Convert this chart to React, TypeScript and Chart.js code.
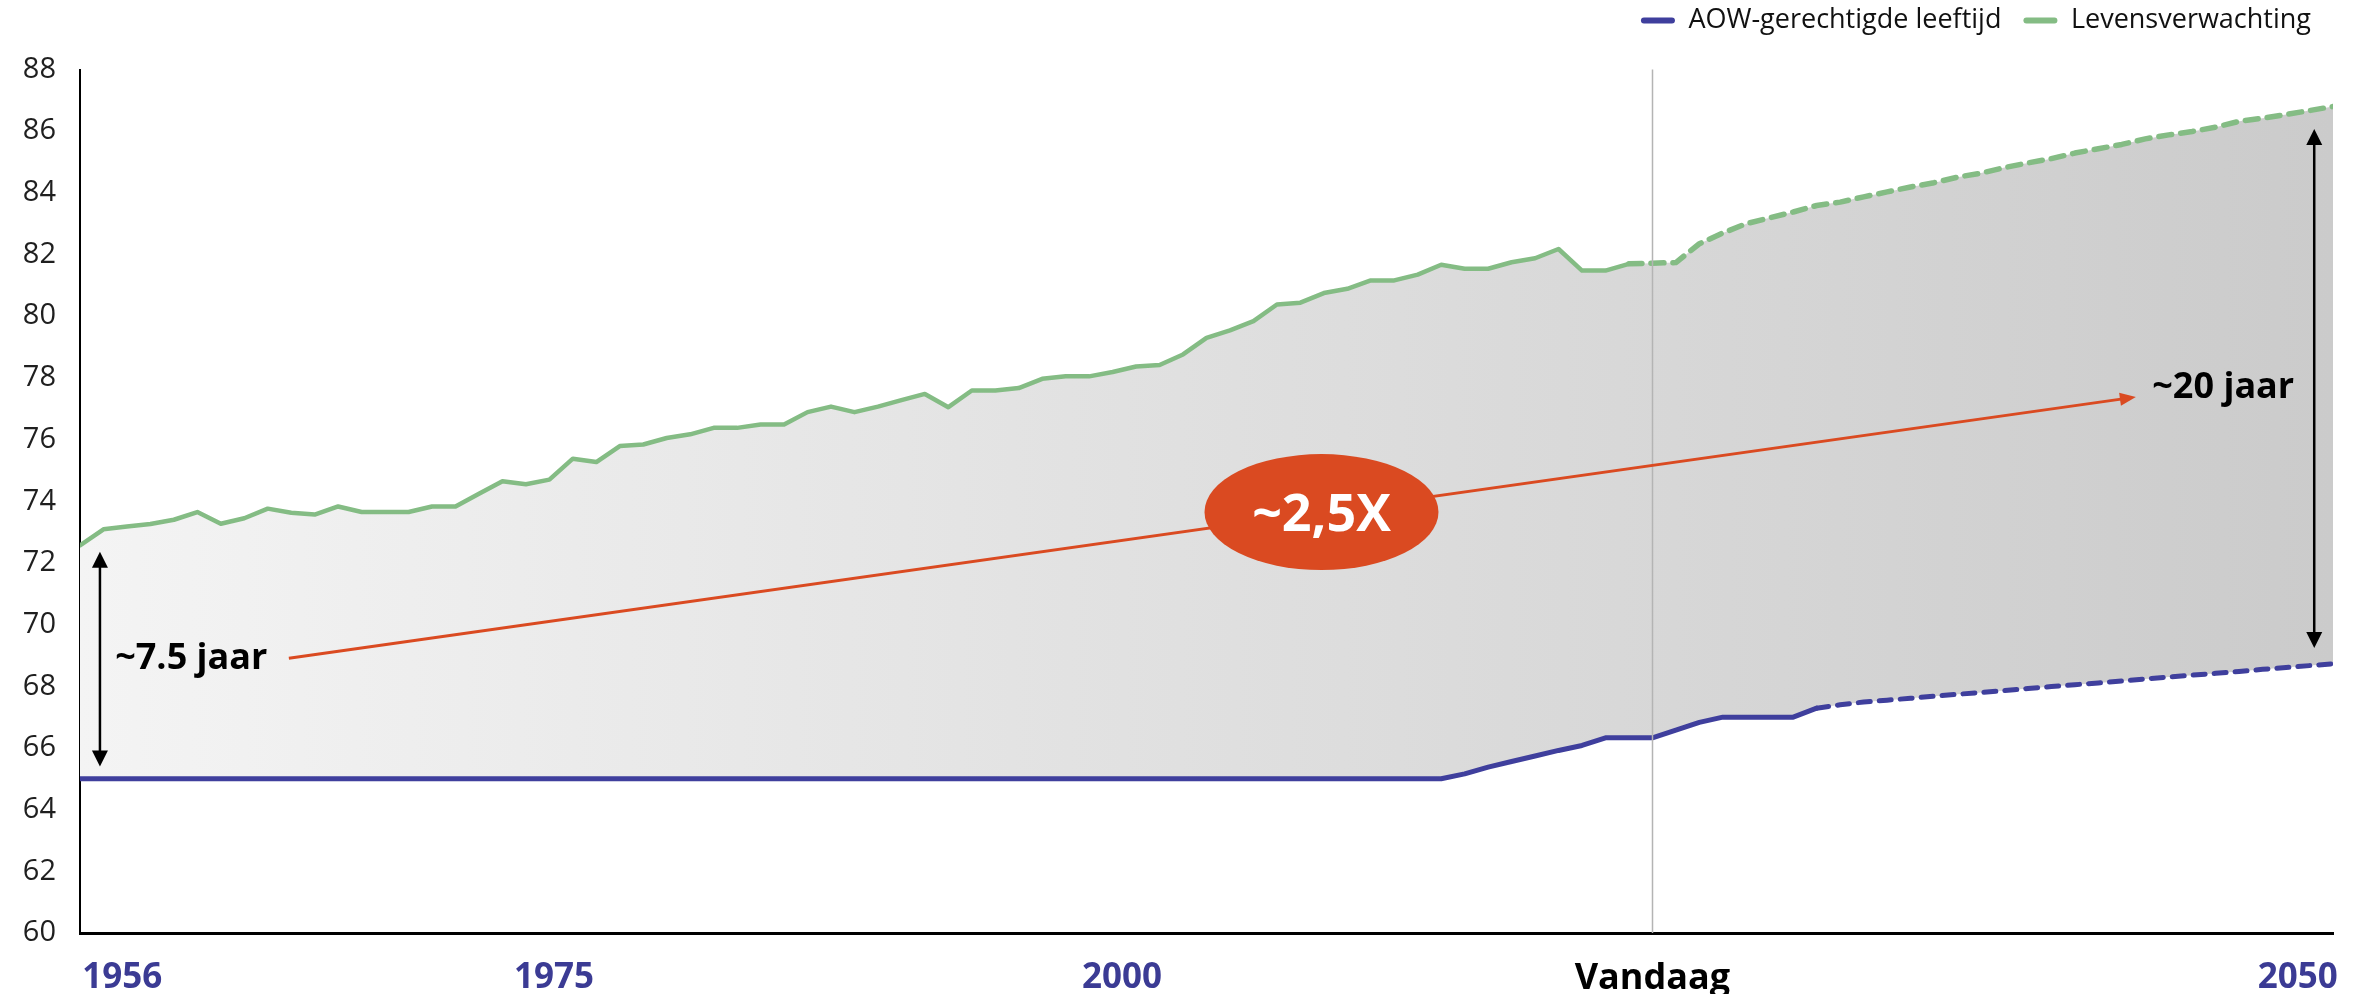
import React, { useEffect, useRef } from 'react';
import { Chart, registerables } from 'chart.js';

Chart.register(...registerables);

// ---------- data ----------
const FIRST_YEAR = 1954;
const LAST_YEAR = 2050;
const years: number[] = [];
for (let y = FIRST_YEAR; y <= LAST_YEAR; y++) years.push(y);

const aowLabel = 'AOW-gerechtigde leeftijd';
const lifeLabel = 'Levensverwachting';

// AOW-gerechtigde leeftijd, 1954..2050
const aowValues = [
  65, 65, 65, 65, 65, 65, 65, 65, 65, 65,
  65, 65, 65, 65, 65, 65, 65, 65, 65, 65,
  65, 65, 65, 65, 65, 65, 65, 65, 65, 65,
  65, 65, 65, 65, 65, 65, 65, 65, 65, 65,
  65, 65, 65, 65, 65, 65, 65, 65, 65, 65,
  65, 65, 65, 65, 65, 65, 65, 65, 65,
  65.16, 65.38, 65.56, 65.74, 65.92, 66.08, 66.33, 66.33, 66.33, 66.58,
  66.83, 67, 67, 67, 67, 67.29, 67.4, 67.49, 67.55, 67.61,
  67.68, 67.74, 67.8, 67.86, 67.93, 67.99, 68.05, 68.11, 68.17, 68.24,
  68.3, 68.36, 68.42, 68.48, 68.55, 68.61, 68.67, 68.73,
];

// Levensverwachting, 1954..2050
const lifeValues = [
  72.57, 73.09, 73.18, 73.26, 73.4, 73.65, 73.27, 73.45, 73.76, 73.63,
  73.57, 73.83, 73.65, 73.65, 73.65, 73.83, 73.83, 74.24, 74.65, 74.55,
  74.7, 75.38, 75.27, 75.79, 75.84, 76.05, 76.17, 76.38, 76.38, 76.49,
  76.49, 76.89, 77.07, 76.89, 77.07, 77.28, 77.48, 77.05, 77.59, 77.59,
  77.67, 77.97, 78.05, 78.05, 78.19, 78.37, 78.42, 78.76, 79.3, 79.54,
  79.84, 80.38, 80.44, 80.75, 80.89, 81.16, 81.16, 81.35, 81.67, 81.54,
  81.54, 81.75, 81.88, 82.18, 81.48, 81.48, 81.7, 81.72, 81.74, 82.35,
  82.7, 83.0, 83.19, 83.38, 83.59, 83.7, 83.87, 84.03, 84.19, 84.33,
  84.51, 84.64, 84.82, 84.97, 85.11, 85.29, 85.43, 85.57, 85.75, 85.88,
  85.99, 86.13, 86.32, 86.42, 86.54, 86.67, 86.8,
];

const xTickLabels = ['1956', '1975', '2000', 'Vandaag', '2050'];
const xTickYears = [1955.8, 1974.2, 1998.4, 2021, 2048.5];
const todayYear = 2021;
const aowDashFrom = 74; // index from which the AOW line is a projection
const lifeDashFrom = 66; // index from which life expectancy is a projection

const gapLeftText = '~7.5 jaar';
const gapRightText = '~20 jaar';
const ratioText = '~2,5X';

// annotation anchors in data units
const leftGap = { year: 1954.85, top: 72.36, bottom: 65.4, textYear: 1955.5, textValue: 68.88 };
const rightGap = { year: 2049.2, top: 86.07, bottom: 69.24, textYear: 2042.3, textValue: 77.67 };
const redArrow = { fromYear: 1962.9, fromValue: 68.91, toYear: 2041.6, toValue: 77.38 };
const bubble = { year: 2006.9, value: 73.65 };

// ---------- styles ----------
const FONT = "'Open Sans', 'DejaVu Sans', sans-serif";
const BLUE = '#3f3f9d';
const GREEN = '#84bc84';
const RED = '#da4a21';

function arrowHead(ctx: CanvasRenderingContext2D, fx: number, fy: number, tx: number, ty: number, len: number, halfW: number, color: string) {
  const a = Math.atan2(ty - fy, tx - fx);
  const bx = tx - len * Math.cos(a);
  const by = ty - len * Math.sin(a);
  ctx.fillStyle = color;
  ctx.beginPath();
  ctx.moveTo(tx, ty);
  ctx.lineTo(bx + halfW * Math.sin(a), by - halfW * Math.cos(a));
  ctx.lineTo(bx - halfW * Math.sin(a), by + halfW * Math.cos(a));
  ctx.closePath();
  ctx.fill();
}

function arrowLine(ctx: CanvasRenderingContext2D, fx: number, fy: number, tx: number, ty: number, len: number, halfW: number, color: string, width: number, both: boolean) {
  const a = Math.atan2(ty - fy, tx - fx);
  const sx = both ? fx + (len - 1) * Math.cos(a) : fx;
  const sy = both ? fy + (len - 1) * Math.sin(a) : fy;
  const ex = tx - (len - 1) * Math.cos(a);
  const ey = ty - (len - 1) * Math.sin(a);
  ctx.strokeStyle = color;
  ctx.lineWidth = width;
  ctx.beginPath();
  ctx.moveTo(sx, sy);
  ctx.lineTo(ex, ey);
  ctx.stroke();
  arrowHead(ctx, fx, fy, tx, ty, len, halfW, color);
  if (both) arrowHead(ctx, tx, ty, fx, fy, len, halfW, color);
}

const legendSpacer = {
  id: 'legendSpacer',
  beforeInit(chart: any) {
    const legend = chart.legend;
    if (!legend) return;
    const fit = legend.fit;
    legend.fit = function () {
      fit.call(this);
      this.height = 84.5;
    };
  },
};

const annotations = {
  id: 'annotations',
  afterDatasetsDraw(chart: any) {
    const { ctx, chartArea } = chart;
    const xs = chart.scales.x;
    const ys = chart.scales.y;
    const X = (v: number) => xs.getPixelForValue(v);
    const Y = (v: number) => ys.getPixelForValue(v);
    ctx.save();

    // "Vandaag" vertical line
    ctx.strokeStyle = '#b4b4b4';
    ctx.lineWidth = 1.5;
    ctx.beginPath();
    ctx.moveTo(Math.round(X(todayYear)) + 0.5, chartArea.top);
    ctx.lineTo(Math.round(X(todayYear)) + 0.5, chartArea.bottom);
    ctx.stroke();

    // red trend arrow
    arrowLine(ctx, X(redArrow.fromYear), Y(redArrow.fromValue), X(redArrow.toYear), Y(redArrow.toValue), 16, 6.5, RED, 3, false);

    // bubble
    ctx.fillStyle = RED;
    ctx.beginPath();
    ctx.ellipse(X(bubble.year), Y(bubble.value), 117, 58, 0, 0, Math.PI * 2);
    ctx.fill();
    ctx.fillStyle = '#ffffff';
    ctx.font = `bold 52px ${FONT}`;
    ctx.textAlign = 'center';
    ctx.textBaseline = 'middle';
    ctx.fillText(ratioText, X(bubble.year), Y(bubble.value) + 4);

    // gap arrows
    arrowLine(ctx, X(leftGap.year), Y(leftGap.top), X(leftGap.year), Y(leftGap.bottom), 16, 8, '#000', 2.5, true);
    arrowLine(ctx, X(rightGap.year), Y(rightGap.top), X(rightGap.year), Y(rightGap.bottom), 16, 8, '#000', 2.5, true);

    ctx.fillStyle = '#000';
    ctx.font = `bold 36px ${FONT}`;
    ctx.textAlign = 'left';
    ctx.textBaseline = 'middle';
    ctx.fillText(gapLeftText, X(leftGap.textYear), Y(leftGap.textValue));
    ctx.fillText(gapRightText, X(rightGap.textYear), Y(rightGap.textValue));

    ctx.restore();
  },
};

export default function App() {
  const ref = useRef<HTMLCanvasElement | null>(null);

  useEffect(() => {
    document.body.style.margin = '0';
    document.body.style.overflow = 'hidden';
    Chart.defaults.font.family = FONT;
    const canvas = ref.current;
    if (!canvas) return;

    const aowPoints = aowValues.map((v, i) => ({ x: years[i], y: v }));
    const lifePoints = lifeValues.map((v, i) => ({ x: years[i], y: v }));

    const chart = new Chart(canvas, {
      type: 'line',
      data: {
        datasets: [
          // visible lines (drawn last, on top)
          {
            label: aowLabel,
            data: aowPoints,
            borderColor: BLUE,
            backgroundColor: BLUE,
            borderWidth: 5,
            pointRadius: 0,
            tension: 0,
            fill: false,
            borderCapStyle: 'round',
            borderJoinStyle: 'round',
            segment: {
              borderDash: (c: any) => (c.p0DataIndex >= aowDashFrom ? [12, 9] : undefined),
            },
          },
          {
            label: lifeLabel,
            data: lifePoints,
            borderColor: GREEN,
            backgroundColor: GREEN,
            borderWidth: 4.5,
            pointRadius: 0,
            tension: 0,
            fill: false,
            borderCapStyle: 'round',
            borderJoinStyle: 'round',
            segment: {
              borderDash: (c: any) => (c.p0DataIndex >= lifeDashFrom ? [13, 9] : undefined),
              borderWidth: (c: any) => (c.p0DataIndex >= lifeDashFrom ? 5.5 : 4.5),
            },
          },
          // area between the two series (single, seamless fill)
          {
            label: 'fill-base',
            data: aowPoints,
            borderWidth: 0,
            borderColor: 'rgba(0,0,0,0)',
            pointRadius: 0,
            tension: 0,
            fill: false,
          },
          {
            label: 'fill-area',
            data: lifePoints,
            borderWidth: 0,
            borderColor: 'rgba(0,0,0,0)',
            pointRadius: 0,
            tension: 0,
            fill: '-1',
            backgroundColor: (c: any) => {
              const area = c.chart.chartArea;
              if (!area) return '#e2e2e2';
              const g = c.chart.ctx.createLinearGradient(area.left, 0, area.right, 0);
              g.addColorStop(0, '#f4f4f4');
              g.addColorStop(1, '#cbcbcb');
              return g;
            },
          },
        ],
      },
      options: {
        responsive: false,
        animation: false,
        layout: { padding: { top: -15, right: 34, bottom: 0, left: 0 } },
        plugins: {
          tooltip: { enabled: false },
          legend: {
            position: 'top',
            align: 'end',
            labels: {
              boxWidth: 34,
              boxHeight: 6,
              padding: 22,
              color: '#111',
              font: { family: FONT, size: 27 },
              useBorderRadius: true,
              borderRadius: 3,
              generateLabels: (chart: any) =>
                chart.data.datasets.slice(0, 2).map((ds: any, i: number) => ({
                  text: ds.label,
                  fillStyle: ds.borderColor,
                  strokeStyle: ds.borderColor,
                  lineWidth: 0,
                  hidden: false,
                  datasetIndex: i,
                  fontColor: '#111',
                  borderRadius: 3,
                })),
            },
          },
        },
        scales: {
          x: {
            type: 'linear',
            min: FIRST_YEAR,
            max: LAST_YEAR,
            grid: { display: false, drawTicks: false },
            border: { display: true, color: '#000', width: 3 },
            afterBuildTicks: (axis: any) => {
              axis.ticks = xTickYears.map((v) => ({ value: v }));
            },
            afterFit: (axis: any) => {
              axis.height = 61;
            },
            ticks: {
              autoSkip: false,
              maxRotation: 0,
              padding: 24,
              callback: (_v: any, i: number) => xTickLabels[i],
              color: (c: any) => (c.index === 3 ? '#000000' : '#3b3b94'),
              font: (c: any) =>
                c.index === 3
                  ? { family: FONT, size: 36, weight: 'bold' }
                  : { family: FONT, size: 35, weight: 'bold' },
            },
          },
          y: {
            min: 60,
            max: 88,
            grid: { display: false, drawTicks: false },
            border: { display: true, color: '#000', width: 2 },
            afterFit: (axis: any) => {
              axis.width = 80;
            },
            ticks: {
              stepSize: 2,
              padding: 24,
              color: '#1f1f1f',
              font: { family: FONT, size: 29 },
            },
          },
        },
      },
      plugins: [legendSpacer, annotations],
    } as any);

    return () => chart.destroy();
  }, []);

  return (
    <div style={{ width: 2367, height: 994 }}>
      <canvas ref={ref} width={2367} height={994} style={{ display: 'block' }} />
    </div>
  );
}
